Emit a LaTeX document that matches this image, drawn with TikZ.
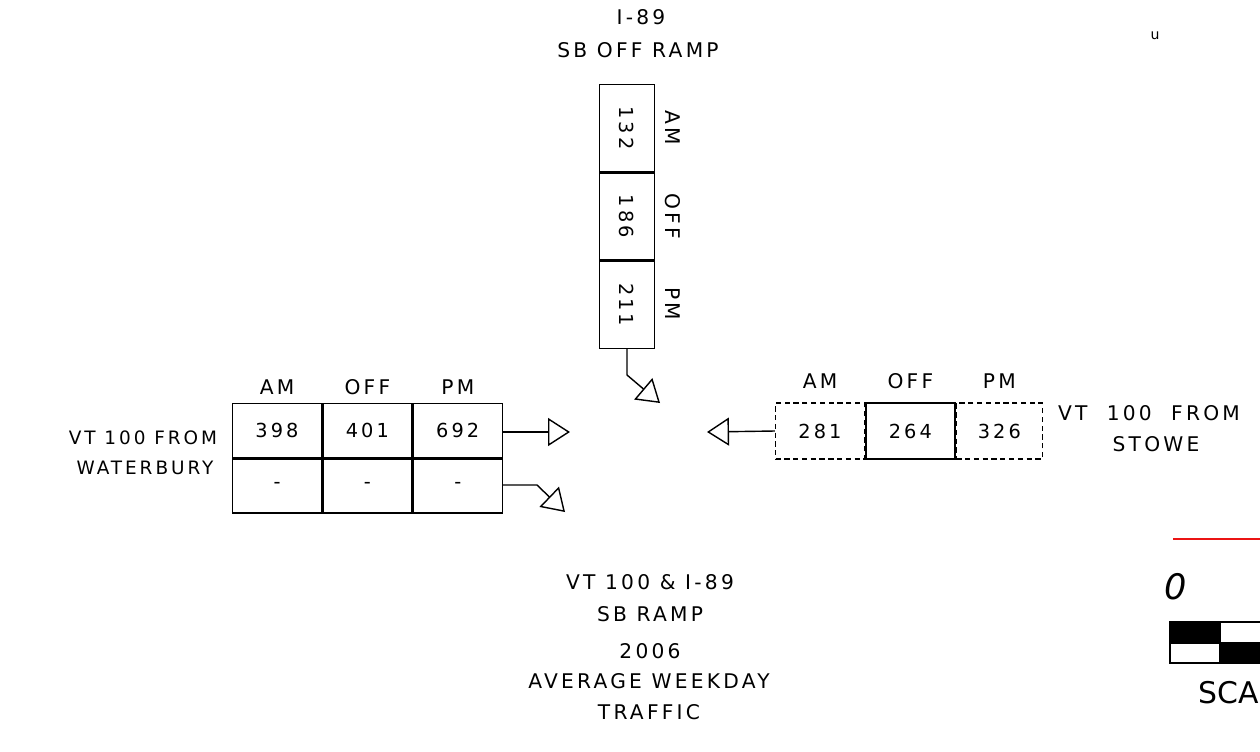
\documentclass[tikz,border=0pt]{standalone}
\usepackage{fontspec}
\setmainfont{DejaVu Sans}[LetterSpace=16]
\usepackage{tikz}
\usetikzlibrary{arrows.meta, positioning, calc}
\definecolor{rojo}{RGB}{235, 20, 20}
\tikzset{
  celda/.style={draw, line width=0.8pt, inner sep=0pt, minimum width=1.78cm, minimum height=1.08cm,
                font=\fontsize{11}{13}\selectfont},
  celdav/.style={draw, line width=0.8pt, inner sep=0pt, minimum width=1.1cm, minimum height=1.74cm},
  rotulo/.style={inner sep=1pt, font=\fontsize{11.5}{13}\selectfont, align=center},
  flecha/.style={draw, line width=0.8pt, -{Triangle[open, length=0.44cm, width=0.56cm, line width=0.8pt]}}
}

\begin{document}
\begin{tikzpicture}[x=0.02cm, y=-0.02cm]
      \useasboundingbox (0,0) rectangle (1260,751);

      % rampa norte
      \node[rotulo] (tnorte) at (641,17) {I-89};
      \node[rotulo] (tnorte2) at (638,50) {SB OFF RAMP};
      \node[celdav] (n1) at (627,128) {};
      \node[celdav, below=0pt of n1] (n2) {};
      \node[celdav, below=0pt of n2] (n3) {};
      \node[rotulo, font=\fontsize{11}{13}\selectfont, rotate=-90] (v1) at (n1) {132};
      \node[rotulo, font=\fontsize{11}{13}\selectfont, rotate=-90] (v2) at (n2) {186};
      \node[rotulo, font=\fontsize{11}{13}\selectfont, rotate=-90] (v3) at (n3) {211};
      \node[rotulo, rotate=-90] (nam) at (673,128) {AM};
      \node[rotulo, rotate=-90] (noff) at (673,216) {OFF};
      \node[rotulo, rotate=-90] (npm) at (673,304) {PM};
      \coordinate (ncodo) at (n3.south |- 0,375);
      \coordinate (npunta) at (660,403);
      \draw[flecha] (n3.south) -- (ncodo) -- (npunta);

      % VT 100 desde Waterbury
      \node[celda] (w11) at (277,430.5) {398};
      \node[celda, right=0pt of w11] (w12) {401};
      \node[celda, right=0pt of w12] (w13) {692};
      \node[celda, below=0pt of w11] (w21) {-};
      \node[celda, below=0pt of w12] (w22) {-};
      \node[celda, below=0pt of w13] (w23) {-};
      \node[rotulo] (wam) at (w11 |- 0,387) {AM};
      \node[rotulo] (woff) at (w12 |- 0,387) {OFF};
      \node[rotulo] (wpm) at (w13 |- 0,387) {PM};
      \node[rotulo, font=\fontsize{10.5}{13}\selectfont] (woeste) at (143,438) {VT 100 FROM};
      \node[rotulo, font=\fontsize{10.5}{13}\selectfont] (woeste2) at (145,468) {WATERBURY};
      \coordinate (wpunta1) at (570,432);
      \coordinate (wcodo) at (537,485);
      \coordinate (wpunta2) at (565,512);
      \draw[flecha] (w13.east |- wpunta1) -- (wpunta1);
      \draw[flecha] (w23.east |- wcodo) -- (wcodo) -- (wpunta2);

      % VT 100 desde Stowe
      \node[celda, densely dashed, minimum height=1.12cm] (e1) at (820,431) {281};
      \node[celda, minimum height=1.12cm, right=0pt of e1] (e2) {264};
      \node[celda, densely dashed, minimum width=1.72cm, minimum height=1.12cm, right=0pt of e2] (e3) {326};
      \node[rotulo] (eam) at (e1 |- 0,381) {AM};
      \node[rotulo] (eoff) at (e2 |- 0,381) {OFF};
      \node[rotulo] (epm) at (e3 |- 0,381) {PM};
      \node[rotulo, anchor=west] (eeste) at (1056,413) {VT\ \ 100\ \ FROM};
      \node[rotulo] (eeste2) at (1156,444) {STOWE};
      \coordinate (epunta) at (707,432);
      \draw[flecha] (e1.west) -- (epunta);

      % titulo
      \node[rotulo] (tit1) at (650,582) {VT 100 \& I-89};
      \node[rotulo] (tit2) at (650,614) {SB RAMP};
      \node[rotulo] (tit3) at (650,651) {2006};
      \node[rotulo] (tit4) at (649,681) {AVERAGE WEEKDAY};
      \node[rotulo] (tit5) at (649,712) {TRAFFIC};

      % escala
      \node[rotulo, font=\fontsize{8}{9}\selectfont] (marca) at (1155,36) {u};
      \draw[rojo, line width=1pt] (1173,539) -- (1260,539);
      \node[inner sep=0pt, font=\fontsize{20}{22}\selectfont\itshape] (cero) at (1176,587) {0};
      \fill (1170,622) rectangle (1220,643);
      \fill (1220,643) rectangle (1260,663);
      \draw[line width=0.8pt] (1260,622) -- (1170,622) -- (1170,663) -- (1260,663);
      \draw[line width=0.8pt] (1220,622) -- (1220,663) (1170,643) -- (1260,643);
      \node[inner sep=0pt, anchor=west, font=\fontsize{17}{20}\selectfont\addfontfeatures{LetterSpace=0}] (escala) at (1198,693) {SCA};
    \end{tikzpicture}
\end{document}
